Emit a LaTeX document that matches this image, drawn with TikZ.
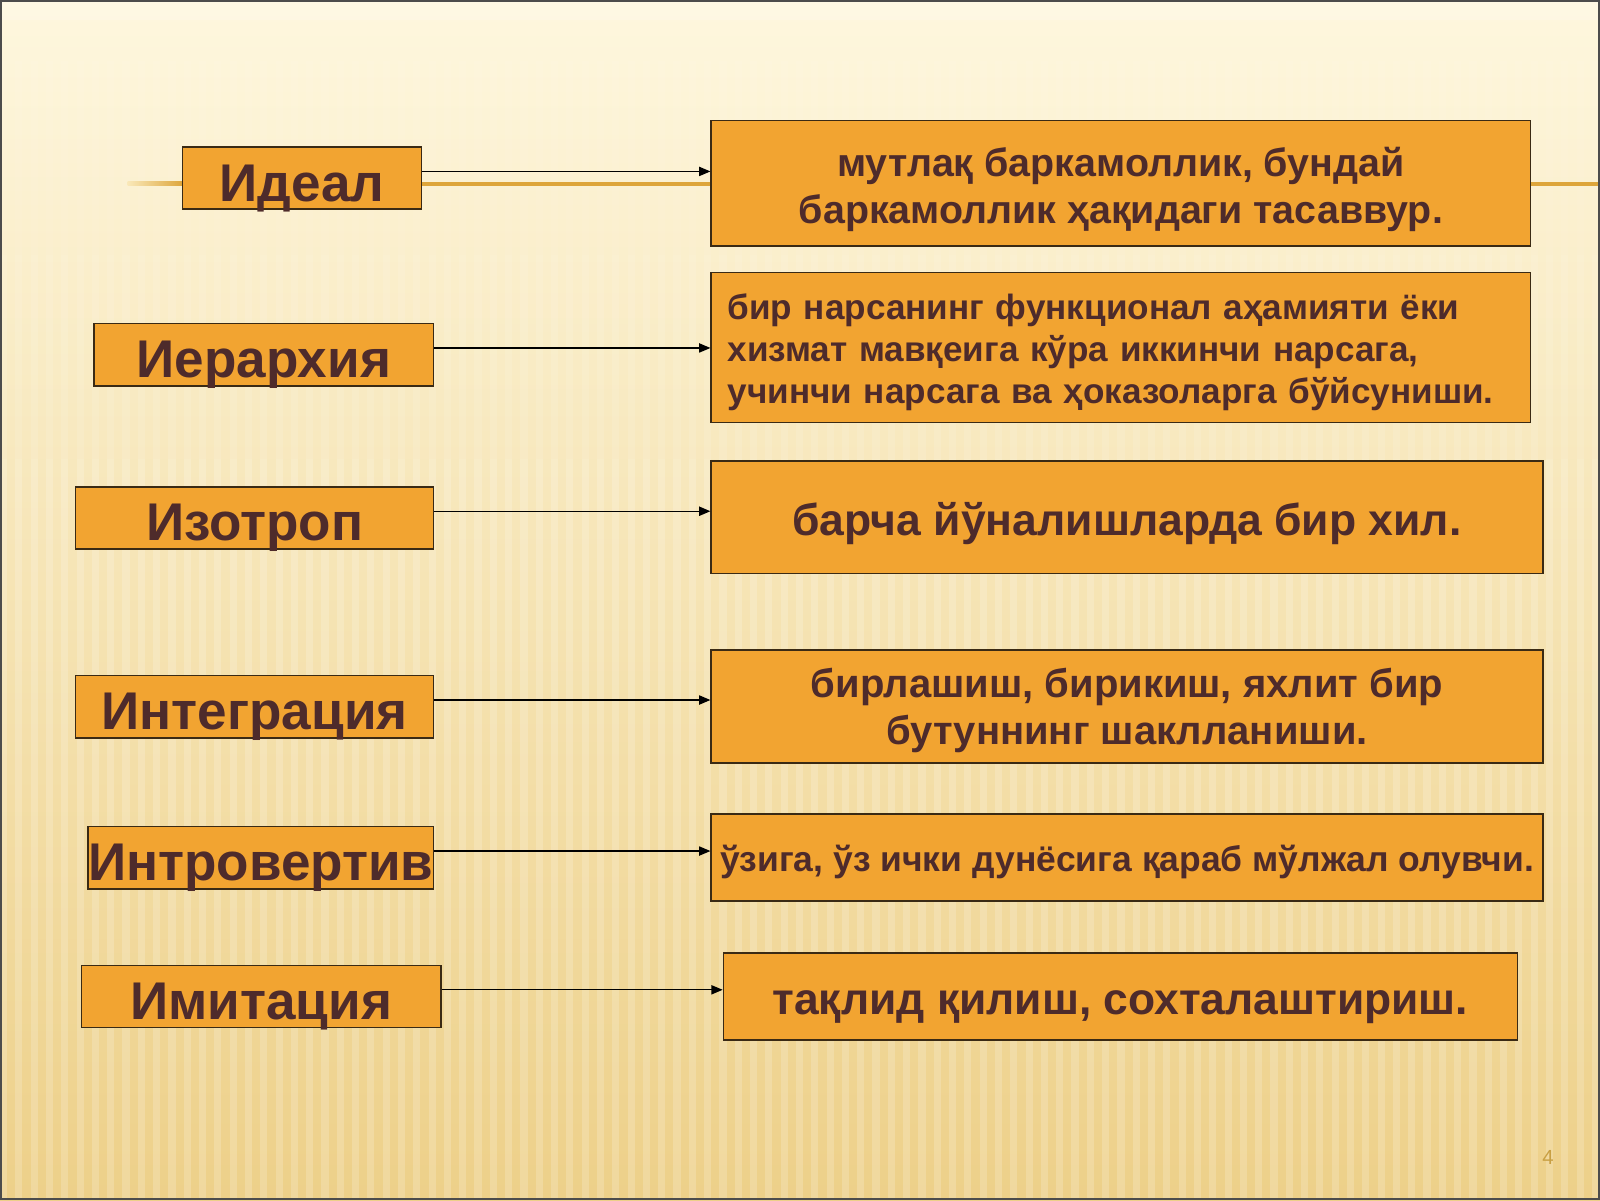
\documentclass[tikz,border=0pt]{standalone}
\usepackage{fontspec}
\setmainfont{Liberation Sans}
\usetikzlibrary{arrows.meta}
\definecolor{boxfill}{HTML}{F2A431}
\definecolor{txt}{HTML}{4E2B2B}
\definecolor{bord}{HTML}{3A2A14}
\definecolor{bgtop}{HTML}{FEF7DE}
\definecolor{bgmid}{HTML}{F9E8B8}
\definecolor{bgbot}{HTML}{EDD089}
\definecolor{goldline}{HTML}{DDA53A}
\definecolor{numc}{HTML}{C9A043}
% place content with declared height #1 and depth #2 (baseline = centre + (#1-#2)/2)
\newcommand\blbox[3]{\raisebox{0pt}[#1][#2]{#3}}
\begin{document}
\begin{tikzpicture}[x=1pt,y=-1pt,
  term/.style={draw=bord,line width=1.6pt,fill=boxfill,inner sep=0pt,
    font=\bfseries\fontsize{52}{60}\selectfont,text=txt},
  defn/.style={draw=bord,line width=1.6pt,fill=boxfill,inner sep=0pt,
    text=txt},
  conn/.style={line width=1.2pt,-{Triangle[length=11pt,width=9pt]}}]
% background
\useasboundingbox (0,0) rectangle (1568,1176);
\shade[top color=bgtop,middle color=bgmid,bottom color=bgbot] (0,0) rectangle (1568,1176);
\foreach \i in {0,15,...,1560} {
  \fill[white,opacity=0.06] (\i,60) rectangle ++(7,190);
  \fill[white,opacity=0.11] (\i,250) rectangle ++(7,200);
  \fill[white,opacity=0.18] (\i,450) rectangle ++(7,726);
}
\fill[white,opacity=0.2] (0,0) rectangle (1568,20);
% decorative title line
\shade[left color=bgmid,right color=goldline] (125,178) rectangle (180,182);
\fill[goldline] (180,178) rectangle (1568,182);
\draw[line width=2pt,color=black!70] (1,1) rectangle (1567,1175);
% left terms
\node[term,minimum width=234pt,minimum height=61pt] (t1) at (296,174.5) {\blbox{45pt}{0pt}{Идеал}};
\node[term,minimum width=333pt,minimum height=61pt] (t2) at (258.5,347.5) {\blbox{45pt}{0pt}{Иерархия}};
\node[term,minimum width=351pt,minimum height=61pt] (t3) at (249.5,507.5) {\blbox{45pt}{0pt}{Изотроп}};
\node[term,minimum width=351pt,minimum height=61pt] (t4) at (249.5,692.5) {\blbox{45pt}{0pt}{Интеграция}};
\node[term,minimum width=339pt,minimum height=61pt] (t5) at (255.5,840.5) {\blbox{45pt}{0pt}{Интровертив}};
\node[term,minimum width=352pt,minimum height=61pt] (t6) at (256,976.5) {\blbox{45pt}{0pt}{Имитация}};
% right definitions
\node[defn,minimum width=803pt,minimum height=123pt,
  font=\bfseries\fontsize{38.6}{46}\selectfont] (d1) at (1098.5,179.5)
  {\blbox{0pt}{13pt}{\begin{tabular}[t]{@{}c@{}}мутлақ баркамоллик, бундай\\баркамоллик ҳақидаги тасаввур.\end{tabular}}};
\node[defn,minimum width=803pt,minimum height=147pt,text width=771pt,inner xsep=16pt,
  font=\bfseries\fontsize{34.4}{41}\selectfont] (d2) at (1098.5,340.5)
  {\blbox{0pt}{55pt}{\begin{tabular}[t]{@{}l@{}}бир нарсанинг функционал аҳамияти ёки\\хизмат мавқеига кўра иккинчи нарсага,\\учинчи нарсага ва ҳоказоларга бўйсуниши.\end{tabular}}};
\node[defn,minimum width=815pt,minimum height=110pt,
  font=\bfseries\fontsize{43.6}{50}\selectfont] (d3) at (1104.5,507)
  {\blbox{36pt}{0pt}{барча йўналишларда бир хил.}};
\node[defn,minimum width=815pt,minimum height=111pt,
  font=\bfseries\fontsize{39.2}{46}\selectfont] (d4) at (1104.5,692.5)
  {\blbox{0pt}{17pt}{\begin{tabular}[t]{@{}c@{}}бирлашиш, бирикиш, яхлит бир\\бутуннинг шаклланиши.\end{tabular}}};
\node[defn,minimum width=815pt,minimum height=85pt,
  font=\bfseries\fontsize{34.75}{40}\selectfont] (d5) at (1104.5,840.5)
  {\blbox{27pt}{0pt}{ўзига, ўз ички дунёсига қараб мўлжал олувчи.}};
\node[defn,minimum width=778pt,minimum height=85pt,
  font=\bfseries\fontsize{43.5}{50}\selectfont] (d6) at (1098,976.5)
  {\blbox{35pt}{0pt}{тақлид қилиш, сохталаштириш.}};
% connector heights
\coordinate (y1) at (0,168);
\coordinate (y2) at (0,341);
\coordinate (y3) at (0,501);
\coordinate (y4) at (0,686);
\coordinate (y5) at (0,834);
\coordinate (y6) at (0,970);
\draw[conn] (t1.east |- y1) -- (d1.west |- y1);
\draw[conn] (t2.east |- y2) -- (d2.west |- y2);
\draw[conn] (t3.east |- y3) -- (d3.west |- y3);
\draw[conn] (t4.east |- y4) -- (d4.west |- y4);
\draw[conn] (t5.east |- y5) -- (d5.west |- y5);
\draw[conn] (t6.east |- y6) -- (d6.west |- y6);
% page number
\node[text=numc,font=\fontsize{20}{24}\selectfont] (pg) at (1517,1134) {4};
\end{tikzpicture}
\end{document}
